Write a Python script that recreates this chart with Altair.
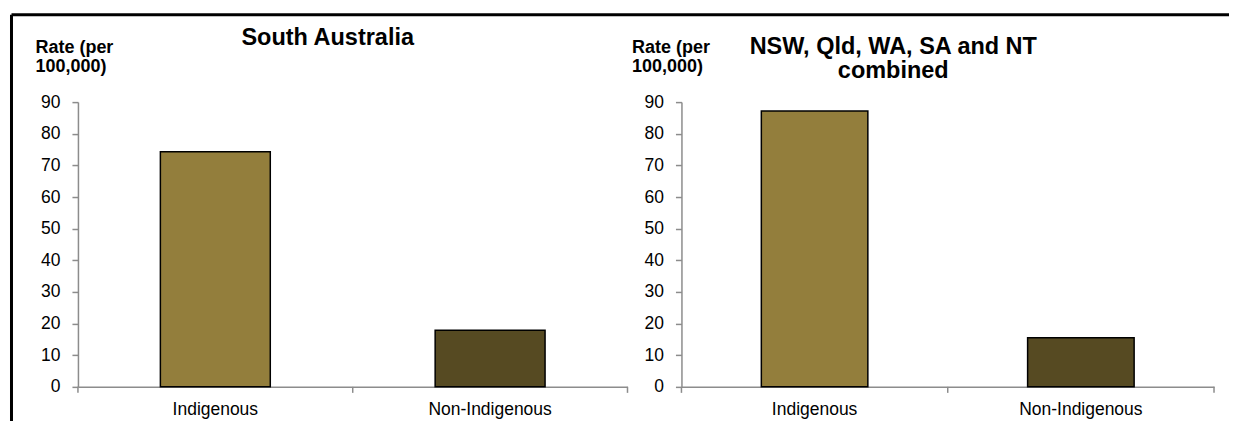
import altair as alt
import pandas as pd

categories = ["Indigenous", "Non-Indigenous"]
sa_values = [74.3, 17.9]
combined_values = [87.2, 15.5]
bar_colors = ["#937E3C", "#564A22"]
y_ticks = [0, 10, 20, 30, 40, 50, 60, 70, 80, 90]
panel_titles = ["South Australia", "NSW, Qld, WA, SA and NT\ncombined"]
y_title = ["Rate (per", "100,000)"]

FONT = "Liberation Sans"
H = 285


def panel(values, title, w, title_x, title_y, axis_title_x, frame=False):
    df = pd.DataFrame({"category": categories, "rate": values})
    bars = alt.Chart(df).mark_bar(stroke="black", strokeWidth=1.5).encode(
        x=alt.X(
            "category:N",
            sort=categories,
            scale=alt.Scale(paddingInner=0.6, paddingOuter=0.3),
            axis=alt.Axis(
                title=None, labelAngle=0, ticks=False, labelPadding=14,
                labelFontSize=17.5, labelFont=FONT, labelColor="black",
                domainColor="#8C8C8C", domainWidth=1.5,
            ),
        ),
        y=alt.Y(
            "rate:Q",
            scale=alt.Scale(domain=[0, 90], nice=False),
            axis=alt.Axis(
                values=y_ticks, grid=False, tickSize=6, tickColor="#8C8C8C",
                tickWidth=1.5, domainColor="#8C8C8C", domainWidth=1.5,
                labelFontSize=17.5, labelFont=FONT, labelColor="black",
                labelPadding=12,
                title=y_title, titleAngle=0, titleAlign="left",
                titleBaseline="alphabetic", titleX=axis_title_x, titleY=-50,
                titleFont=FONT, titleFontSize=18, titleFontWeight="bold",
                titleColor="black", titleLineHeight=19,
            ),
        ),
        color=alt.Color("category:N", sort=categories,
                        scale=alt.Scale(domain=categories, range=bar_colors),
                        legend=None),
    )
    ticks = alt.Chart(pd.DataFrame({"p": [0.0, 0.5, 1.0]})).mark_rule(
        color="#8C8C8C", strokeWidth=1.5
    ).encode(
        x=alt.X("p:Q", scale=alt.Scale(domain=[0, 1]), axis=None),
        y=alt.value(H), y2=alt.value(H + 6),
    )
    txt = alt.Chart(pd.DataFrame({"t": [title]})).mark_text(
        font=FONT, fontSize=23.5, fontWeight="bold", color="black",
        align="center", baseline="alphabetic", lineBreak="\n", lineHeight=24,
    ).encode(text="t:N", x=alt.value(title_x), y=alt.value(title_y))
    layers = [bars, ticks, txt]
    if frame:
        top_line = alt.Chart(pd.DataFrame({"f": [1]})).mark_rule(
            color="black", strokeWidth=3
        ).encode(
            x=alt.value(-66.5), x2=alt.value(1152), y=alt.value(-87.5),
        )
        left_line = alt.Chart(pd.DataFrame({"f": [1]})).mark_rule(
            color="black", strokeWidth=3
        ).encode(
            x=alt.value(-66.5), y=alt.value(-87.5), y2=alt.value(330),
        )
        layers = [top_line, left_line] + layers
    return alt.layer(*layers).resolve_scale(x="independent").properties(
        width=w, height=H
    )


left = panel(sa_values, panel_titles[0], 550, 250, -57, -43, frame=True)
right = panel(combined_values, panel_titles[1], 533, 212, -48, -50)

chart = alt.hconcat(left, right, spacing=54, bounds="flush").properties(
    padding={"left": 2, "top": 5, "right": 0, "bottom": 0}
).configure_view(stroke=None)

chart.save("out.html", embed_options={"renderer": "svg", "actions": False})
